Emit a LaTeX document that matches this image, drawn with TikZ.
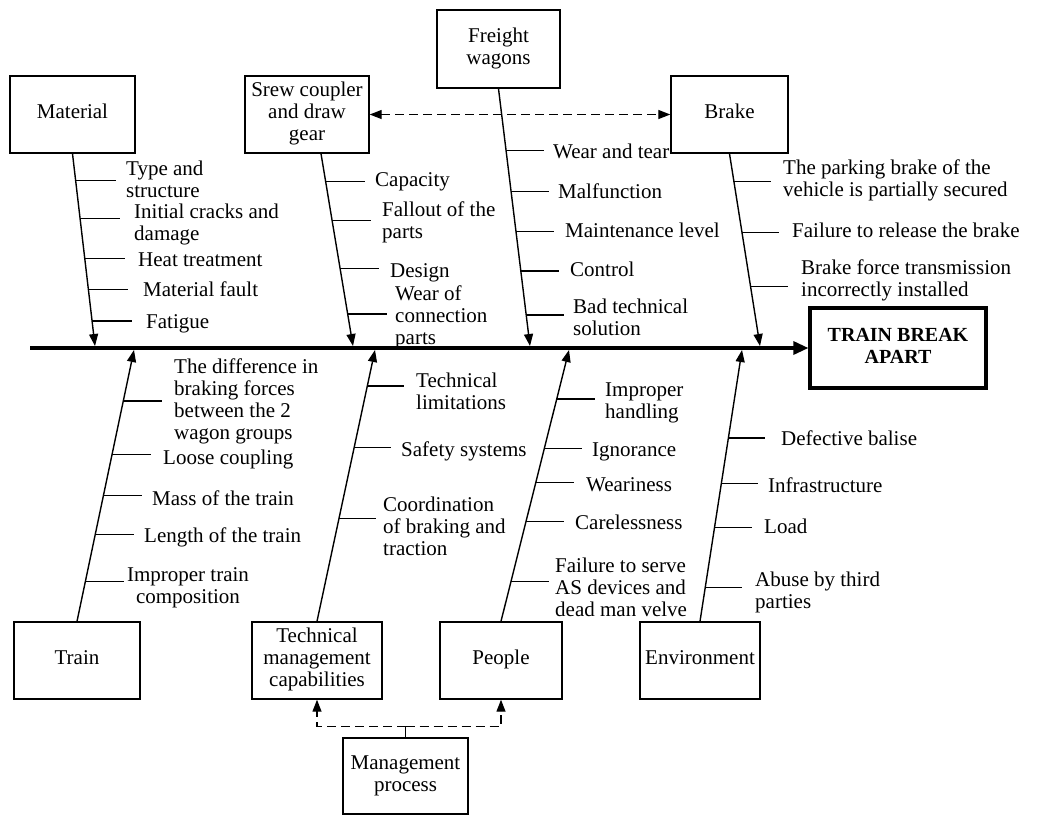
\documentclass[tikz,border=0pt]{standalone}
\usepackage{fontspec}
\setmainfont{Liberation Serif}
\usetikzlibrary{arrows.meta,calc}
\newcommand\fs{\fontsize{21}{22}\selectfont}
\begin{document}
\begin{tikzpicture}[x=1pt,y=-1pt,
  box/.style={draw, line width=1.4pt, align=center, inner sep=0pt, font=\fs},
  lbl/.style={anchor=west, align=left, inner sep=0pt, font=\fs, yshift=-2pt},
  spine/.style={line width=1.4pt, -{Triangle[length=12pt,width=9pt]}},
  rib/.style={line width=1.4pt},
  dline/.style={line width=1.3pt, dash pattern=on 9pt off 5pt},
  tip/.style={Triangle[length=11pt,width=8pt]}]
\useasboundingbox (0,0) rectangle (1044,815);
% boxes
\node[box, minimum width=125pt, minimum height=77pt] (mat) at (72.5,114.5) {\strut Material};
\node[box, minimum width=124pt, minimum height=77pt] (scr) at (307,114.5) {\strut Srew coupler\\\strut and draw\\\strut gear};
\node[box, minimum width=123pt, minimum height=78pt] (frt) at (498.5,49) {\strut Freight\\\strut wagons};
\node[box, minimum width=117pt, minimum height=77pt] (brk) at (729.5,114.5) {\strut Brake};
\node[box, line width=3.2pt, minimum width=176pt, minimum height=80pt, font=\fontsize{20}{22}\selectfont\bfseries] (res) at (898,348) {\strut TRAIN BREAK\\\strut APART};
\node[box, minimum width=126pt, minimum height=77pt] (trn) at (77,660.5) {\strut Train};
\node[box, minimum width=130pt, minimum height=77pt] (tec) at (317,660.5) {\strut Technical\\\strut management\\\strut capabilities};
\node[box, minimum width=122pt, minimum height=77pt] (ppl) at (501,660.5) {\strut People};
\node[box, minimum width=120pt, minimum height=77pt] (env) at (700,660.5) {\strut Environment};
\node[box, minimum width=125pt, minimum height=76pt] (mg) at (405.5,776) {\strut Management\\\strut process};
% main line
\coordinate (st) at (30,348);
\draw[line width=3.2pt, -{Triangle[length=15pt,width=13pt]}] (st) -- (res.west);
% spine end points
\coordinate (tm) at (95,346);
\coordinate (ss) at ($(scr.south)+(14,0)$);
\coordinate (ts) at (353,346);
\coordinate (tf) at (530,346);
\coordinate (tb) at (760,346);
\coordinate (tt) at (134,350);
\coordinate (tc) at (375,350);
\coordinate (tp) at (569,350);
\coordinate (te) at (742,350);
\draw[spine] (mat.south) -- (tm);
\draw[spine] (ss) -- (ts);
\draw[spine] (frt.south) -- (tf);
\draw[spine] (brk.south) -- (tb);
\draw[spine] (trn.north) -- (tt);
\draw[spine] (tec.north) -- (tc);
\draw[spine] (ppl.north) -- (tp);
\draw[spine] (env.north) -- (te);
% dashed links
\draw[dline, {Triangle[length=12pt,width=9pt]}-{Triangle[length=12pt,width=9pt]}] (scr.east) -- (brk.west);
\coordinate (j) at ($(mg.north)+(0,-11)$);
\draw[line width=1.3pt] (mg.north) -- (j);
\draw[dline, -{Triangle[length=12pt,width=9pt]}] (j) -| (tec.south);
\draw[dline, -{Triangle[length=12pt,width=9pt]}] (j) -| (ppl.south);
% Material ribs
\foreach \t in {0.14,0.337,0.544,0.705,0.870}
  \draw[rib] ($(mat.south)!\t!(tm)$) -- ++(40,0);
\node[lbl] (m1) at (126,180) {\strut Type and\\\strut structure};
\node[lbl] (m2) at (134,223) {\strut Initial cracks and\\\strut damage};
\node[lbl] (m3) at (138,260) {\strut Heat treatment};
\node[lbl] (m4) at (143,290) {\strut Material fault};
\node[lbl] (m5) at (146,322) {\strut Fatigue};
% Screw ribs
\foreach \t in {0.145,0.347,0.596,0.834}
  \draw[rib] ($(ss)!\t!(ts)$) -- ++(39,0);
\node[lbl] (s1) at (375,180) {\strut Capacity};
\node[lbl] (s2) at (382,221) {\strut Fallout of the\\\strut parts};
\node[lbl] (s3) at (390,271) {\strut Design};
\node[lbl] (s4) at (395,316) {\strut Wear of\\\strut connection\\\strut parts};
% Freight ribs
\foreach \t in {0.240,0.399,0.554,0.709,0.880}
  \draw[rib] ($(frt.south)!\t!(tf)$) -- ++(38,0);
\node[lbl] (f1) at (553,152) {\strut Wear and tear};
\node[lbl] (f2) at (558,192) {\strut Malfunction};
\node[lbl] (f3) at (565,231) {\strut Maintenance level};
\node[lbl] (f4) at (570,270) {\strut Control};
\node[lbl] (f5) at (573,318) {\strut Bad technical\\\strut solution};
% Brake ribs
\foreach \t in {0.145,0.409,0.689}
  \draw[rib] ($(brk.south)!\t!(tb)$) -- ++(37,0);
\node[lbl] (b1) at (783,179) {\strut The parking brake of the\\\strut vehicle is partially secured};
\node[lbl] (b2) at (792,231) {\strut Failure to release the brake};
\node[lbl] (b3) at (801,279) {\strut Brake force transmission\\\strut incorrectly installed};
% Train ribs
\foreach \t in {0.8125,0.614,0.463,0.320,0.147}
  \draw[rib] ($(trn.north)!\t!(tt)$) -- ++(39,0);
\node[lbl] (t1) at (174,400) {\strut The difference in\\\strut braking forces\\\strut between the 2\\\strut wagon groups};
\node[lbl] (t2) at (163,458) {\strut Loose coupling};
\node[lbl] (t3) at (152,499) {\strut Mass of the train};
\node[lbl] (t4) at (144,536) {\strut Length of the train};
\node[lbl, anchor=center, align=center] (t5) at (188,586) {\strut Improper train\\\strut composition};
% Tech ribs
\foreach \t in {0.868,0.640,0.379}
  \draw[rib] ($(tec.north)!\t!(tc)$) -- ++(37,0);
\node[lbl] (c1) at (416,392) {\strut Technical\\\strut limitations};
\node[lbl] (c2) at (401,450) {\strut Safety systems};
\node[lbl] (c3) at (383,527) {\strut Coordination\\\strut of braking and\\\strut traction};
% People ribs
\foreach \t in {0.820,0.636,0.511,0.368,0.147}
  \draw[rib] ($(ppl.north)!\t!(tp)$) -- ++(38,0);
\node[lbl] (p1) at (605,401) {\strut Improper\\\strut handling};
\node[lbl] (p2) at (592,450) {\strut Ignorance};
\node[lbl] (p3) at (586,485) {\strut Weariness};
\node[lbl] (p4) at (575,523) {\strut Carelessness};
\node[lbl] (p5) at (555,588) {\strut Failure to serve\\\strut AS devices and\\\strut dead man velve};
% Environment ribs
\foreach \t in {0.676,0.507,0.346,0.125}
  \draw[rib] ($(env.north)!\t!(te)$) -- ++(37,0);
\node[lbl] (e1) at (781,439) {\strut Defective balise};
\node[lbl] (e2) at (768,486) {\strut Infrastructure};
\node[lbl] (e3) at (764,527) {\strut Load};
\node[lbl] (e4) at (755,591) {\strut Abuse by third\\\strut parties};
\end{tikzpicture}
\end{document}
